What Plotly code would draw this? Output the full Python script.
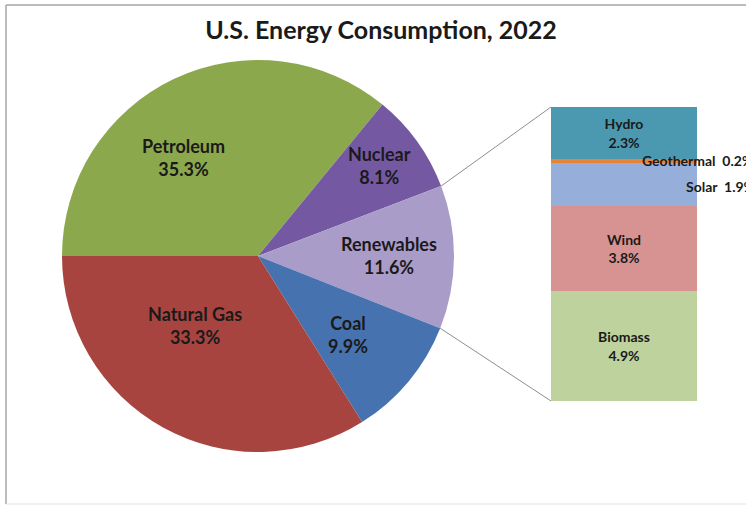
import math
import plotly.graph_objects as go

# Share of total U.S. energy consumption by source (percent)
sources = ["Petroleum", "Nuclear", "Renewables", "Coal", "Natural Gas"]
shares = [35.3, 8.1, 11.6, 9.9, 33.3]
source_colors = ["#8CA84C", "#7459A2", "#AA9CC8", "#4673AF", "#A8443F"]

# Breakdown of the renewables slice, stacked bottom to top
renew_parts = ["Biomass", "Wind", "Solar", "Geothermal", "Hydro"]
renew_shares = [4.9, 3.8, 1.9, 0.2, 2.3]
renew_colors = ["#BDD29C", "#D69392", "#95AFDA", "#E8843A", "#4A99B0"]

W, H = 746, 506
FONT = "Lato"
TXT = "#1a1a1a"

# pie geometry in pixels
cx, cy, R = 258, 256, 196
pie_dom_x = [(cx - R) / W, (cx + R) / W]
pie_dom_y = [1 - (cy + R) / H, 1 - (cy - R) / H]
start_deg = 270  # first slice begins at 9 o'clock, running clockwise

# bar axis geometry in pixels
bar_left, bar_right, bar_top, bar_bottom = 551, 697, 107, 401
bar_dom_x = [bar_left / W, bar_right / W]
bar_dom_y = [1 - bar_bottom / H, 1 - bar_top / H]
bar_total = sum(renew_shares)

fig = go.Figure()

fig.add_trace(go.Pie(
    labels=sources, values=shares, sort=False, direction="clockwise",
    rotation=start_deg, marker=dict(colors=source_colors, line=dict(width=0)),
    textinfo="none", hoverinfo="label+percent", showlegend=False,
    domain=dict(x=pie_dom_x, y=pie_dom_y),
))

inside_labels = {"Biomass", "Wind", "Hydro"}
for name, val, col in zip(renew_parts, renew_shares, renew_colors):
    fig.add_trace(go.Bar(
        x=[0], y=[val], name=name, width=1,
        marker=dict(color=col, line=dict(width=0)),
        text=[f"<b>{name}<br>{val}%</b>" if name in inside_labels else ""],
        textposition="inside", insidetextanchor="middle",
        textfont=dict(family=FONT, size=14, color=TXT),
        showlegend=False,
    ))

annotations = []

# slice labels, placed along each slice at a chosen sweep fraction and radius
label_sweep = [0.41, 0.47, 0.49, 0.54, 0.61]
label_radius = [0.63, 0.77, 0.67, 0.61, 0.48]
total = sum(shares)
cum = 0.0
edges = []
for name, val, fs, fr in zip(sources, shares, label_sweep, label_radius):
    a0 = start_deg + 360 * cum / total
    span = 360 * val / total
    edges.append((a0, a0 + span))
    a = math.radians(a0 + fs * span)
    px = cx + R * fr * math.sin(a)
    py = cy - R * fr * math.cos(a)
    annotations.append(dict(
        x=px / W, y=1 - py / H, xref="paper", yref="paper",
        xanchor="center", yanchor="middle",
        text=f"<b>{name}<br>{val}%</b>", showarrow=False,
        font=dict(family=FONT, size=18, color=TXT), align="center",
    ))
    cum += val

# labels for the thin segments, set beside the bar
stack_mid = {}
acc = 0.0
for name, val in zip(renew_parts, renew_shares):
    stack_mid[name] = acc + val / 2
    acc += val
annotations.append(dict(
    x=640 / W, y=stack_mid["Geothermal"], xref="paper", yref="y",
    xanchor="left", yanchor="middle", showarrow=False,
    text="<b>Geothermal  0.2%</b>", font=dict(family=FONT, size=14, color=TXT),
))
annotations.append(dict(
    x=684 / W, y=stack_mid["Solar"] - 0.1, xref="paper", yref="y",
    xanchor="left", yanchor="middle", showarrow=False,
    text="<b>Solar  1.9%</b>", font=dict(family=FONT, size=14, color=TXT),
))

# connector lines from the renewables slice edges to the bar corners
r_idx = sources.index("Renewables")
a_start, a_end = edges[r_idx]
shapes = []
for ang, (bx, by) in ((a_start, (bar_left, bar_top)), (a_end, (bar_left, bar_bottom))):
    a = math.radians(ang)
    ex = cx + R * math.sin(a)
    ey = cy - R * math.cos(a)
    shapes.append(dict(type="line", xref="paper", yref="paper",
                       x0=ex / W, y0=1 - ey / H, x1=bx / W, y1=1 - by / H,
                       line=dict(color="#8E8E8E", width=1)))

# chart area frame
shapes.append(dict(type="line", xref="paper", yref="paper",
                   x0=6 / W, y0=1 - 5 / H, x1=1.02, y1=1 - 5 / H,
                   line=dict(color="#A6A6A6", width=1.5)))
shapes.append(dict(type="line", xref="paper", yref="paper",
                   x0=6 / W, y0=1 - 5 / H, x1=6 / W, y1=1 - 504 / H,
                   line=dict(color="#A6A6A6", width=1.5)))
shapes.append(dict(type="line", xref="paper", yref="paper",
                   x0=6 / W, y0=1 - 504 / H, x1=1.02, y1=1 - 504 / H,
                   line=dict(color="#E2E2E2", width=1)))

fig.update_layout(
    width=W, height=H, margin=dict(l=0, r=0, t=0, b=0),
    paper_bgcolor="white", plot_bgcolor="rgba(0,0,0,0)",
    barmode="stack", bargap=0,
    title=dict(text="<b>U.S. Energy Consumption, 2022</b>", x=381 / W, xanchor="center",
               y=1 - 30 / H, yanchor="middle",
               font=dict(family=FONT, size=25, color=TXT)),
    xaxis=dict(domain=bar_dom_x, range=[-0.5, 0.5], visible=False, fixedrange=True),
    yaxis=dict(domain=bar_dom_y, range=[0, bar_total], visible=False, fixedrange=True),
    annotations=annotations, shapes=shapes,
)

fig.write_html("out.html")
